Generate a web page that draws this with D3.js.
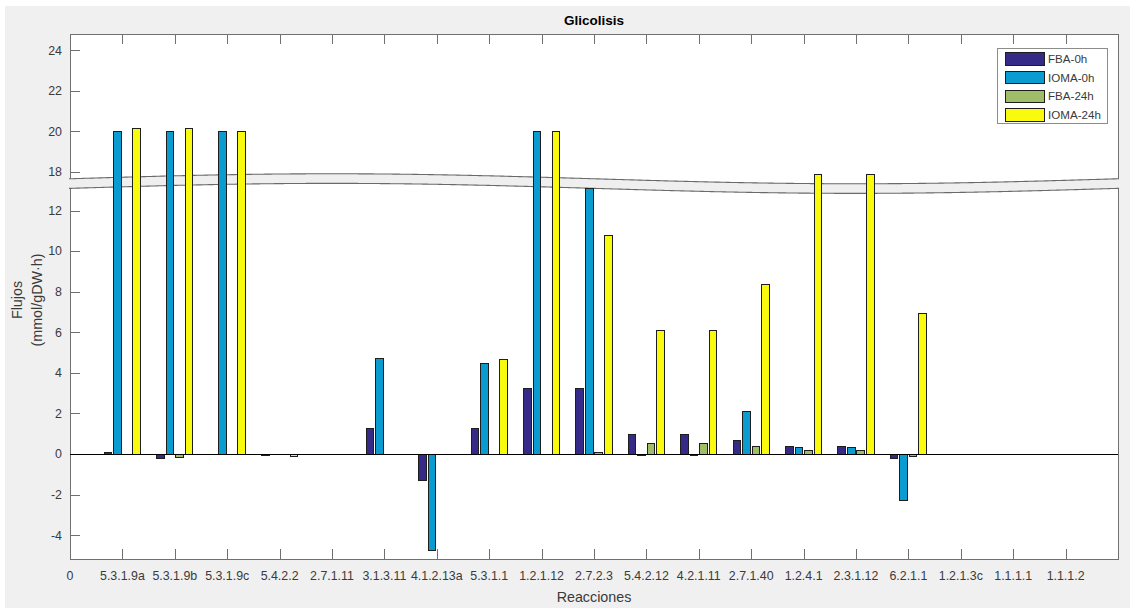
<!DOCTYPE html>
<html>
<head>
<meta charset="utf-8">
<script src="https://cdn.jsdelivr.net/npm/d3@7"></script>
<style>
  html, body { margin: 0; padding: 0; background: #ffffff; }
  svg { display: block; font-family: "Liberation Sans", Arial, Helvetica, sans-serif; }
</style>
</head>
<body>
<svg id="chart" width="1132" height="610"></svg>
<script>
// Reaction identifiers along the x axis
const categories = ['5.3.1.9a','5.3.1.9b','5.3.1.9c','5.4.2.2','2.7.1.11','3.1.3.11','4.1.2.13a',
  '5.3.1.1','1.2.1.12','2.7.2.3','5.4.2.12','4.2.1.11','2.7.1.40','1.2.4.1','2.3.1.12','6.2.1.1',
  '1.2.1.3c','1.1.1.1','1.1.1.2'];

// Fluxes (mmol/gDW·h) per condition
const fba0h   = [0.06, -0.22, 0, -0.06, 0, 1.26, -1.28, 1.26, 3.24, 3.24, 0.98, 0.98, 0.68, 0.36, 0.36, -0.23, 0, 0, 0];
const ioma0h  = [20, 20, 20, 0, 0, 4.73, -4.76, 4.46, 20, 13.1, -0.05, -0.05, 2.09, 0.30, 0.30, -2.28, 0, 0, 0];
const fba24h  = [0, -0.16, 0, 0, 0, 0, 0, 0, 0, 0.08, 0.52, 0.52, 0.36, 0.19, 0.19, -0.10, 0, 0, 0];
const ioma24h = [20.16, 20.16, 20, -0.14, 0, 0, 0, 4.68, 20, 10.78, 6.08, 6.08, 8.36, 17.89, 17.89, 6.95, 0, 0, 0];

const seriesNames  = ['FBA-0h', 'IOMA-0h', 'FBA-24h', 'IOMA-24h'];
const seriesColors = ['#352a87', '#0a9bd0', '#9fbe67', '#f9fb0e'];
const seriesValues = [fba0h, ioma0h, fba24h, ioma24h];

// Tick values below and above the axis break
const lowerTicks = [-4, -2, 0, 2, 4, 6, 8, 10, 12];
const upperTicks = [18, 20, 22, 24];

// Broken y axis: the interval between breakLow and breakHigh is collapsed
const yMin = -5.17, yMax = 24.8, breakLow = 13.33, breakHigh = 17.43;

const svg = d3.select('#chart');
const W = 1132, H = 610;
const axL = 70, axR = 1118, axT = 34, axB = 559;

const x = d3.scaleLinear().domain([0, categories.length + 1]).range([axL, axR]);
const spanLow = breakLow - yMin, spanHigh = yMax - breakHigh;
const pxPerUnit = (axB - axT) / (spanLow + spanHigh);
const yBreakPx = axB - spanLow * pxPerUnit;
const y = d3.scaleLinear()
  .domain([yMin, breakLow, breakHigh, yMax])
  .range([axB, yBreakPx, yBreakPx, axT]);

// Figure background
svg.append('rect').attr('x', 5).attr('y', 6).attr('width', W - 7).attr('height', H - 8).attr('fill', '#f0f0f0');

// Axes area
svg.append('rect').attr('x', axL).attr('y', axT).attr('width', axR - axL).attr('height', axB - axT)
  .attr('fill', '#ffffff');

const axisColor = '#707070';
const textColor = '#3a3a3a';

// Box
const box = svg.append('g').attr('shape-rendering', 'crispEdges').attr('stroke', axisColor).attr('fill', 'none');
box.append('rect').attr('x', axL).attr('y', axT).attr('width', axR - axL).attr('height', axB - axT);

// X ticks (top and bottom, pointing inward)
const xTickVals = d3.range(1, categories.length + 1);
box.selectAll('line.xb').data(xTickVals).join('line')
  .attr('x1', d => Math.round(x(d)) + 0.5).attr('x2', d => Math.round(x(d)) + 0.5)
  .attr('y1', axB).attr('y2', axB - 10);
box.selectAll('line.xt').data(xTickVals).join('line')
  .attr('x1', d => Math.round(x(d)) + 0.5).attr('x2', d => Math.round(x(d)) + 0.5)
  .attr('y1', axT).attr('y2', axT + 10);

// Y ticks
const yTickVals = lowerTicks.concat(upperTicks);
box.selectAll('line.y').data(yTickVals).join('line')
  .attr('x1', axL).attr('x2', axL + 10)
  .attr('y1', d => Math.round(y(d)) + 0.5).attr('y2', d => Math.round(y(d)) + 0.5);

// Tick labels
const labels = svg.append('g').attr('fill', textColor).attr('font-size', '12.4px');
labels.selectAll('text.yl').data(yTickVals).join('text')
  .attr('x', axL - 8).attr('y', d => y(d)).attr('dy', '0.35em')
  .attr('text-anchor', 'end').text(d => d);
const xLabelData = [{ pos: 0, text: '0' }].concat(categories.map((c, i) => ({ pos: i + 1, text: c })));
labels.selectAll('text.xl').data(xLabelData).join('text')
  .attr('x', d => x(d.pos)).attr('y', axB + 21)
  .attr('text-anchor', 'middle').text(d => d.text);

// Wavy break band across the axes
const amp = 5, half = 4.8;
const wave = px => yBreakPx - amp * Math.sin(2 * Math.PI * (px - axL) / (axR - axL));
const pxs = d3.range(axL - 1, axR + 1.5, 2);
const topPts = pxs.map(p => [p, wave(p) - half]);
const botPts = pxs.map(p => [p, wave(p) + half]);
const line = d3.line();
svg.append('path')
  .attr('d', line(topPts.concat(botPts.slice().reverse())) + 'Z')
  .attr('fill', '#efefef');
svg.append('path').attr('d', line(topPts)).attr('fill', 'none').attr('stroke', '#6a6a6a').attr('stroke-width', 1.1);
svg.append('path').attr('d', line(botPts)).attr('fill', 'none').attr('stroke', '#6a6a6a').attr('stroke-width', 1.1);

// Grouped bars
const nS = seriesValues.length;
const groupW = Math.min(0.8, nS / (nS + 1.5));
const step = groupW / nS;
const barW = step * 0.8;
const barsG = svg.append('g').attr('shape-rendering', 'crispEdges');
seriesValues.forEach((vals, s) => {
  const off = (s - (nS - 1) / 2) * step;
  barsG.append('g').selectAll('rect').data(vals).join('rect')
    .attr('x', (d, i) => x(i + 1 + off - barW / 2))
    .attr('width', x(barW) - x(0))
    .attr('y', d => Math.min(y(d), y(0)))
    .attr('height', d => Math.abs(y(d) - y(0)))
    .attr('fill', seriesColors[s])
    .attr('stroke', '#1e1e1e')
    .attr('stroke-width', 1);
});

// Zero baseline
svg.append('line').attr('x1', axL).attr('x2', axR)
  .attr('y1', Math.round(y(0)) + 0.5).attr('y2', Math.round(y(0)) + 0.5)
  .attr('stroke', '#000').attr('stroke-width', 1).attr('shape-rendering', 'crispEdges');

// Title and axis labels
svg.append('text').attr('x', (axL + axR) / 2).attr('y', 25).attr('text-anchor', 'middle')
  .attr('font-size', '13.5px').attr('font-weight', 'bold').attr('fill', '#000').text('Glicolisis');
svg.append('text').attr('x', (axL + axR) / 2).attr('y', 602).attr('text-anchor', 'middle')
  .attr('font-size', '14.3px').attr('fill', textColor).text('Reacciones');
const yLab = svg.append('text').attr('transform', 'translate(0,300) rotate(-90)')
  .attr('text-anchor', 'middle').attr('font-size', '14.3px').attr('fill', textColor);
yLab.append('tspan').attr('x', 0).attr('y', 22).text('Flujos');
yLab.append('tspan').attr('x', 0).attr('y', 42).text('(mmol/gDW·h)');

// Legend
const lg = svg.append('g').attr('transform', 'translate(997,48)');
lg.append('rect').attr('x', 0.5).attr('y', 0.5).attr('width', 110).attr('height', 75)
  .attr('fill', '#ffffff').attr('stroke', '#8c8c8c').attr('shape-rendering', 'crispEdges');
const rows = lg.selectAll('g.row').data(seriesNames).join('g')
  .attr('transform', (d, i) => `translate(0,${10.7 + i * 18.7})`);
rows.append('rect').attr('x', 8.5).attr('y', -6).attr('width', 39).attr('height', 12.5)
  .attr('fill', (d, i) => seriesColors[i]).attr('stroke', '#1e1e1e').attr('shape-rendering', 'crispEdges');
rows.append('text').attr('x', 51).attr('y', 0).attr('dy', '0.36em')
  .attr('font-size', '11.6px').attr('fill', textColor).text(d => d);
</script>
</body>
</html>
